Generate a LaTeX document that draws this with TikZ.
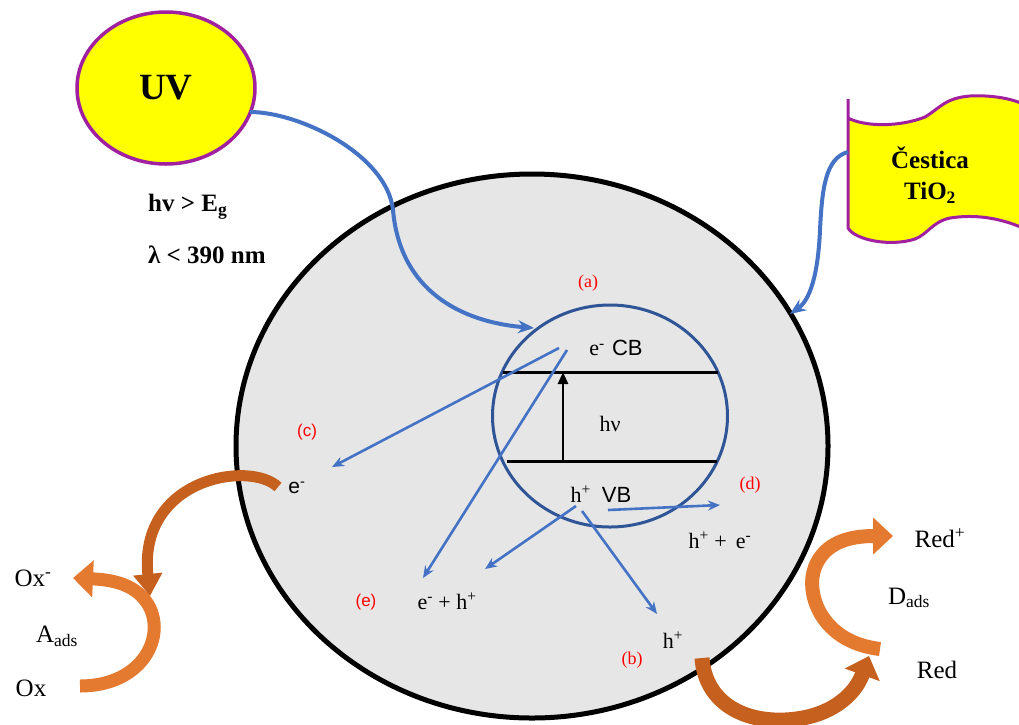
\documentclass[tikz,border=0pt]{standalone}
\usepackage{fontspec}
\setmainfont{Liberation Serif}
\setsansfont{Liberation Sans}
\usetikzlibrary{shapes.geometric,arrows.meta}
\definecolor{partgray}{RGB}{230,230,230}
\definecolor{bandblue}{RGB}{47,85,151}
\definecolor{arrblue}{RGB}{68,114,196}
\definecolor{uvpurple}{RGB}{160,32,160}
\definecolor{uvyellow}{RGB}{255,255,0}
\definecolor{orangeA}{RGB}{228,122,48}
\definecolor{orangeD}{RGB}{197,96,30}
\definecolor{labred}{RGB}{255,0,0}
\newcommand{\fsz}[2]{\fontsize{#1}{#2}\selectfont}
\tikzset{
  barrow/.style={draw=arrblue, line width=2.6pt, -{Stealth[length=12pt,width=10pt]}},
  bigarrow/.style={draw=arrblue, line width=4pt, -{Stealth[length=16pt,width=13pt]}},
  oarrow/.style={draw=orangeA, line width=#1, -{Triangle[length=20pt,width=36pt]}},
  oarrow/.default=14pt,
  lbl/.style={inner sep=0pt, font=\fsz{22}{26}},
  redlbl/.style={inner sep=0pt, text=labred, font=\fsz{18}{21}},
  biglbl/.style={inner sep=0pt, font=\fsz{25}{30}},
  boldlbl/.style={inner sep=0pt, anchor=west, font=\fsz{25}{30}\bfseries},
}
\begin{document}
\begin{tikzpicture}[x=1pt,y=-1pt]
\useasboundingbox (0,0) rectangle (1019,724);

% particle
\node[ellipse, draw=black, line width=5pt, fill=partgray, minimum width=592pt, minimum height=544pt, inner sep=0pt] (particle) at (532,446) {};

% band circle
\node[ellipse, draw=bandblue, line width=3pt, minimum width=235pt, minimum height=222pt, inner sep=0pt] (band) at (610,416) {};
\coordinate (cbL) at (503,372); \coordinate (cbR) at (718,372);
\coordinate (vbL) at (507,461); \coordinate (vbR) at (717,461);
\draw[line width=3pt] (cbL) -- (cbR);
\draw[line width=3pt] (vbL) -- (vbR);
\coordinate (exB) at (563,461); \coordinate (exT) at (563,372);
\draw[line width=2.6pt, -{Triangle[length=12pt,width=10pt]}] (exB) -- (exT);

% UV source
\node[ellipse, draw=uvpurple, line width=3.5pt, fill=uvyellow, minimum width=178pt, minimum height=152pt, inner sep=0pt, font=\fsz{37}{40}\bfseries] (uv) at (166,88) {UV};
\node[boldlbl] (cond1) at (148,207) {hv > E\textsubscript{g}};
\node[boldlbl] (cond2) at (148,255) {λ < 390 nm};

% TiO2 flag
\draw[draw=uvpurple, line width=3pt, fill=uvyellow]
  (848,99) -- (848,228)
  .. controls (855,240) and (890,247) .. (915,239)
  .. controls (928,234) and (932,222) .. (950,218)
  .. controls (975,214) and (1000,218) .. (1023,228)
  -- (1023,104)
  .. controls (1010,98) and (990,95) .. (970,96)
  .. controls (945,98) and (940,108) .. (925,117)
  .. controls (900,127) and (865,127) .. (848,118);
\node[inner sep=0pt, align=center, font=\fsz{25}{31}\bfseries] (flag) at (930,175) {Čestica\\TiO\textsubscript{2}};

% connectors from sources
\coordinate (uvS) at (250,112);
\coordinate (uvM) at (393,210);
\coordinate (uvE) at (534,328);
\draw[bigarrow] (uvS) .. controls (300,112) and (387,155) .. (uvM) .. controls (400,290) and (460,322) .. (uvE);
\coordinate (flS) at (848,152);
\coordinate (flM) at (820,230);
\coordinate (flE) at (790,314);
\draw[bigarrow] (flS) .. controls (825,158) and (822,190) .. (flM) .. controls (818,275) and (810,300) .. (flE);

% band labels
\node[lbl] (ecb) at (616,348) {e\textsuperscript{-}\,\,{\sffamily CB}};
\node[lbl] (hv) at (610,424) {hν};
\node[lbl] (hvb) at (601,494) {h\textsuperscript{+}\,\,\,{\sffamily VB}};
\node[redlbl] (la) at (588,283) {(a)};
\node[redlbl, font=\fsz{17}{20}\sffamily] (lc) at (307,432) {(c)};
\node[redlbl] (ld) at (750,485) {(d)};
\node[redlbl, font=\fsz{17}{20}\sffamily] (le) at (366,602) {(e)};
\node[redlbl] (lb) at (632,660) {(b)};
\node[lbl, font=\fsz{21}{24}\sffamily] (esurf) at (297,488) {e\textsuperscript{-}};
\node[lbl] (hpe) at (720,540) {h\textsuperscript{+} +\, e\textsuperscript{-}};
\node[lbl] (eph) at (447,601) {e\textsuperscript{-} + h\textsuperscript{+}};
\node[lbl] (hsurf) at (673,640) {h\textsuperscript{+}};

% blue process arrows
\coordinate (c1s) at (559,348); \coordinate (c1e) at (332,467);
\coordinate (e1s) at (567,350); \coordinate (e1e) at (423,578);
\coordinate (e2s) at (576,506); \coordinate (e2e) at (485,569);
\coordinate (b1s) at (582,511); \coordinate (b1e) at (657,614);
\coordinate (d1s) at (608,510); \coordinate (d1e) at (720,505);
\draw[barrow] (c1s) -- (c1e);
\draw[barrow] (e1s) -- (e1e);
\draw[barrow] (e2s) -- (e2e);
\draw[barrow] (b1s) -- (b1e);
\draw[barrow] (d1s) -- (d1e);

% outer species labels
\node[biglbl] (oxm) at (33,578) {Ox\textsuperscript{-}};
\node[biglbl] (aads) at (57,636) {A\textsubscript{ads}};
\node[biglbl] (ox) at (31,688) {Ox};
\node[biglbl] (redp) at (940,538) {Red\textsuperscript{+}};
\node[biglbl] (dads) at (909,598) {D\textsubscript{ads}};
\node[biglbl] (red) at (937,670) {Red};

% orange reaction arrows
\coordinate (o1s) at (278,487); \coordinate (o1e) at (150,596);
\draw[oarrow=11pt, draw=orangeD, -{Triangle[length=22pt,width=28pt]}] (o1s) .. controls (250,460) and (138,478) .. (o1e);
\coordinate (o2s) at (80,686); \coordinate (o2e) at (73,578);
\draw[oarrow=13pt] (o2s) .. controls (140,686) and (165,640) .. (150,608) .. controls (140,588) and (120,580) .. (o2e);
\coordinate (o3s) at (702,658); \coordinate (o3e) at (869,656);
\draw[oarrow=15pt, draw=orangeD] (o3s) .. controls (705,700) and (740,722) .. (785,720) .. controls (830,718) and (855,695) .. (o3e);
\coordinate (o4s) at (880,649); \coordinate (o4e) at (893,536);
\draw[oarrow=14pt] (o4s) .. controls (820,642) and (805,592) .. (815,567) .. controls (825,542) and (850,536) .. (o4e);
\end{tikzpicture}
\end{document}
